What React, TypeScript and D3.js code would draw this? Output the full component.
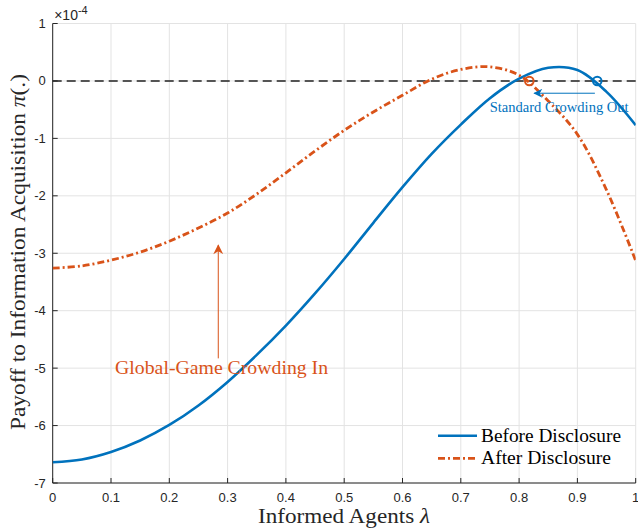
import React from "react";
import * as d3 from "d3";

// lambda grid and payoffs (in units of 1e-4)
const lambdas = [0, 0.05, 0.1, 0.15, 0.2, 0.25, 0.3, 0.35, 0.4, 0.45, 0.5, 0.55, 0.6, 0.65, 0.7, 0.75, 0.8, 0.85, 0.9, 0.95, 1];
const before = [-6.64, -6.59, -6.46, -6.26, -5.99, -5.65, -5.24, -4.77, -4.26, -3.7, -3.1, -2.47, -1.85, -1.27, -0.76, -0.3, 0.04, 0.23, 0.19, -0.19, -0.77];
const after = [-3.26, -3.22, -3.12, -2.98, -2.79, -2.56, -2.3, -1.97, -1.6, -1.22, -0.86, -0.54, -0.25, 0.03, 0.2, 0.245, 0.1, -0.35, -0.93, -1.9, -3.13];

const xTicks = [0, 0.1, 0.2, 0.3, 0.4, 0.5, 0.6, 0.7, 0.8, 0.9, 1];
const yTicks = [1, 0, -1, -2, -3, -4, -5, -6, -7];

// equilibrium points (zero crossings)
const eqBefore = 0.934;
const eqAfter = 0.8175;

const W = 638;
const H = 529;
const m = { left: 52.7, right: 2.3, top: 23.5, bottom: 46 };

const BLUE = "#0072BD";
const RED = "#D95319";
const AXIS = "#262626";
const SANS = "'Liberation Sans', Arial, sans-serif";
const SERIF = "'Liberation Serif', 'Times New Roman', serif";

export default function App() {
  const x = d3.scaleLinear().domain([0, 1]).range([m.left, W - m.right]);
  const y = d3.scaleLinear().domain([-7, 1]).range([H - m.bottom, m.top]);

  const line = d3
    .line<number>()
    .x((_, i) => x(lambdas[i]))
    .y((d) => y(d))
    .curve(d3.curveCatmullRom.alpha(0.5));

  const x0 = x(0);
  const x1 = x(1);
  const yb = y(-7);
  const yt = y(1);

  return (
    <div style={{ position: "absolute", left: 0, top: 0 }}>
      <svg width={W} height={H} style={{ display: "block", background: "#fff" }}>
        <defs>
          <marker id="headBlue" viewBox="0 0 10 10" refX="9" refY="5" markerWidth="11" markerHeight="9" orient="auto" markerUnits="userSpaceOnUse">
            <path d="M0,0 L10,5 L0,10 L3,5 Z" fill={BLUE} />
          </marker>
          <marker id="headRed" viewBox="0 0 10 10" refX="9" refY="5" markerWidth="11" markerHeight="10" orient="auto" markerUnits="userSpaceOnUse">
            <path d="M0,0 L10,5 L0,10 L3,5 Z" fill={RED} />
          </marker>
          <clipPath id="plot">
            <rect x={x0} y={yt} width={x1 - x0} height={yb - yt} />
          </clipPath>
        </defs>

        {/* grid */}
        {xTicks.map((t) => (
          <line key={"gx" + t} x1={x(t)} x2={x(t)} y1={yt} y2={yb} stroke="#e3e3e3" strokeWidth={1} />
        ))}
        {yTicks.map((t) => (
          <line key={"gy" + t} x1={x0} x2={x1} y1={y(t)} y2={y(t)} stroke="#e3e3e3" strokeWidth={1} />
        ))}

        {/* axes */}
        <line x1={x0} x2={x1} y1={yb} y2={yb} stroke={AXIS} strokeWidth={1} />
        <line x1={x0} x2={x0} y1={yt} y2={yb} stroke={AXIS} strokeWidth={1} />
        {xTicks.map((t) => (
          <g key={"tx" + t}>
            <line x1={x(t)} x2={x(t)} y1={yb} y2={yb - 5} stroke={AXIS} />
            <text x={x(t)} y={yb + 19} textAnchor="middle" fontFamily={SANS} fontSize={13} fill={AXIS}>
              {t}
            </text>
          </g>
        ))}
        {yTicks.map((t) => (
          <g key={"ty" + t}>
            <line x1={x0} x2={x0 + 5} y1={y(t)} y2={y(t)} stroke={AXIS} />
            <text x={x0 - 7} y={y(t) + 4.5} textAnchor="end" fontFamily={SANS} fontSize={13} fill={AXIS}>
              {t}
            </text>
          </g>
        ))}
        <text x={x0 + 1.5} y={yt - 4} fontFamily={SANS} fontSize={14} fill={AXIS}>
          {"\u00d710"}
          <tspan dy={-6} fontSize={11}>-4</tspan>
        </text>

        {/* zero line */}
        <line x1={x0} x2={x1} y1={y(0)} y2={y(0)} stroke="#222" strokeWidth={1.5} strokeDasharray="9,5" />

        {/* series */}
        <g clipPath="url(#plot)">
          <path d={line(before) || ""} fill="none" stroke={BLUE} strokeWidth={2.6} />
          <path d={line(after) || ""} fill="none" stroke={RED} strokeWidth={2.8} strokeDasharray="7,3,2,3" />
        </g>

        {/* equilibrium markers */}
        <circle cx={x(eqAfter)} cy={y(0)} r={4.3} fill="none" stroke={RED} strokeWidth={2} />
        <circle cx={x(eqBefore)} cy={y(0)} r={4.3} fill="none" stroke={BLUE} strokeWidth={2} />

        {/* annotations */}
        <line x1={x(0.93)} x2={x(0.826)} y1={y(-0.214)} y2={y(-0.214)} stroke={BLUE} strokeWidth={1} markerEnd="url(#headBlue)" />
        <text x={x(0.7495)} y={y(-0.545)} fontFamily={SERIF} fontSize={14} fill={BLUE} textLength={139} lengthAdjust="spacingAndGlyphs">
          Standard Crowding Out
        </text>

        <line x1={x(0.284)} x2={x(0.284)} y1={y(-4.83)} y2={y(-2.86)} stroke={RED} strokeWidth={1} markerEnd="url(#headRed)" />
        <text x={x(0.107)} y={y(-5.1)} fontFamily={SERIF} fontSize={19} fill={RED} textLength={213} lengthAdjust="spacingAndGlyphs">
          Global-Game Crowding In
        </text>

        {/* legend */}
        <line x1={438} x2={477} y1={435.7} y2={435.7} stroke={BLUE} strokeWidth={2.6} />
        <line x1={438} x2={477} y1={458.3} y2={458.3} stroke={RED} strokeWidth={2.8} strokeDasharray="7,3,2,3" />
        <text x={481} y={441.5} fontFamily={SERIF} fontSize={19} fill="#000" textLength={140} lengthAdjust="spacingAndGlyphs">
          Before Disclosure
        </text>
        <text x={481} y={464} fontFamily={SERIF} fontSize={19} fill="#000" textLength={130} lengthAdjust="spacingAndGlyphs">
          After Disclosure
        </text>

        {/* axis labels */}
        <text x={258} y={523} fontFamily={SERIF} fontSize={21} fill={AXIS} textLength={172} lengthAdjust="spacingAndGlyphs">
          Informed Agents <tspan fontStyle="italic">{"\u03bb"}</tspan>
        </text>
        <text transform={`translate(25,430) rotate(-90)`} fontFamily={SERIF} fontSize={21} fill={AXIS} textLength={356} lengthAdjust="spacingAndGlyphs">
          Payoff to Information Acquisition <tspan fontStyle="italic">{"\u03c0"}</tspan>(.)
        </text>
      </svg>
    </div>
  );
}
